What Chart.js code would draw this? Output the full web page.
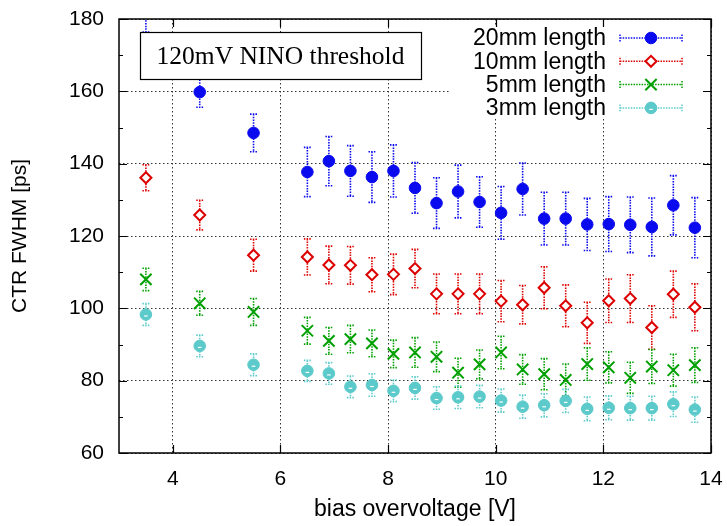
<!DOCTYPE html>
<html><head><meta charset="utf-8">
<script src="https://cdn.jsdelivr.net/npm/chart.js@4/dist/chart.umd.min.js"></script>
<style>html,body{margin:0;padding:0;background:#fff;} canvas{display:block;}</style>
</head><body>
<canvas id="c" width="727" height="526"></canvas>
<script>
// ---- data ----
const biasVoltage = [3.5,4.5,5.5,6.5,6.9,7.3,7.7,8.1,8.5,8.9,9.3,9.7,10.1,10.5,10.9,11.3,11.7,12.1,12.5,12.9,13.3,13.7];
const ctr20mm = [184.0,159.8,148.5,137.7,140.7,138.0,136.3,138.0,133.3,129.1,132.3,129.4,126.4,133.0,124.8,124.8,123.2,123.3,123.1,122.5,128.5,122.3];
const err20mm = [7.6,4.2,5.2,6.8,6.8,7.0,7.0,7.2,7.0,7.0,7.3,7.0,7.3,7.2,7.3,7.3,7.2,7.6,7.7,8.0,8.2,8.3];
const ctr10mm = [136.1,125.8,114.7,114.2,112.0,111.9,109.3,109.4,111.0,104.0,104.0,104.0,102.0,101.0,105.7,100.7,96.0,102.1,102.7,94.7,103.9,100.3];
const err10mm = [3.6,4.1,4.4,5.0,5.2,5.2,4.7,5.6,5.3,5.5,5.5,5.5,5.7,5.3,5.8,5.8,5.7,6.0,6.6,6.0,6.4,6.5];
const ctr5mm = [108.0,101.4,99.0,93.8,91.0,91.5,90.3,87.4,87.8,86.6,82.2,84.5,87.8,83.1,81.8,80.2,84.6,83.7,80.8,83.9,82.9,84.3];
const err5mm = [3.1,3.3,3.7,3.7,3.7,3.8,3.7,3.8,4.1,4.1,4.0,4.0,4.5,4.1,4.3,4.4,4.5,4.3,4.3,4.7,4.4,4.8];
const ctr3mm = [98.3,89.6,84.4,82.7,82.0,78.3,78.8,77.2,78.0,75.2,75.4,75.6,74.5,72.8,73.2,74.4,72.2,72.5,72.4,72.4,73.5,72.0];
const err3mm = [3.0,3.0,3.0,2.9,3.0,3.0,3.1,3.0,3.1,3.1,3.1,3.1,3.2,3.2,3.2,3.2,3.3,3.3,3.3,3.3,3.4,3.5];
const seriesLabels = ['20mm length','10mm length','5mm length','3mm length'];
const xTickValues = [4,6,8,10,12,14];
const yTickValues = [60,80,100,120,140,160,180];
const yMinorTickValues = [70,90,110,130,150,170];
const annotationText = '120mV NINO threshold';
const xTitle = 'bias overvoltage [V]';
const yTitle = 'CTR FWHM [ps]';

// ---- styles ----
const colors = ['#0a0aee','#dd0000','#00a000','#5ccaca'];
const styles = [
  {pointStyle:'circle', radius:5.8, borderWidth:1, fill:true},
  {pointStyle:'rectRot', radius:5.5, borderWidth:2, fill:false},
  {pointStyle:'crossRot', radius:8, borderWidth:2, fill:false},
  {pointStyle:'circle', radius:5.8, borderWidth:1, fill:true}
];
const values = [ctr20mm, ctr10mm, ctr5mm, ctr3mm];
const errors = [err20mm, err10mm, err5mm, err3mm];

const datasets = values.map((vals, k) => ({
  label: seriesLabels[k],
  data: biasVoltage.map((x, i) => ({x: x, y: vals[i]})),
  errors: errors[k],
  showLine: false,
  pointStyle: styles[k].pointStyle,
  pointRadius: styles[k].radius,
  pointHoverRadius: styles[k].radius,
  pointBorderWidth: styles[k].borderWidth,
  borderColor: colors[k],
  backgroundColor: styles[k].fill ? colors[k] : '#ffffff'
}));

const DOT = [1.5, 1.2];

const errorBarPlugin = {
  id: 'errorBars',
  beforeDatasetsDraw(chart) {
    const {ctx, chartArea: a, scales: {x: xs, y: ys}} = chart;
    ctx.save();
    ctx.beginPath();
    ctx.rect(a.left, a.top, a.right - a.left, a.bottom - a.top);
    ctx.clip();
    chart.data.datasets.forEach((ds, k) => {
      ctx.strokeStyle = colors[k];
      ctx.lineWidth = 1.6;
      ctx.setLineDash(DOT);
      ds.data.forEach((p, i) => {
        const px = xs.getPixelForValue(p.x);
        const yt = ys.getPixelForValue(p.y + ds.errors[i]);
        const yb = ys.getPixelForValue(p.y - ds.errors[i]);
        ctx.beginPath();
        ctx.moveTo(px, yt); ctx.lineTo(px, yb);
        ctx.moveTo(px - 3.5, yt); ctx.lineTo(px + 3.5, yt);
        ctx.moveTo(px - 3.5, yb); ctx.lineTo(px + 3.5, yb);
        ctx.stroke();
      });
    });
    ctx.restore();
  },
  afterDatasetsDraw(chart) {
    const {ctx, chartArea: a} = chart;
    ctx.save();
    ctx.beginPath();
    ctx.rect(a.left, a.top, a.right - a.left, a.bottom - a.top);
    ctx.clip();
    const meta = chart.getDatasetMeta(3);
    ctx.strokeStyle = '#ffffff';
    ctx.lineWidth = 1.2;
    meta.data.forEach(el => {
      ctx.beginPath();
      ctx.moveTo(el.x - 1.8, el.y + 1.5);
      ctx.lineTo(el.x + 1.8, el.y + 1.5);
      ctx.stroke();
    });
    ctx.restore();

    // annotation box
    ctx.save();
    ctx.fillStyle = '#ffffff';
    ctx.fillRect(140, 32, 281, 47);
    ctx.strokeStyle = '#000';
    ctx.lineWidth = 1.2;
    ctx.strokeRect(140.5, 32.5, 281, 47);
    ctx.fillStyle = '#000';
    ctx.font = "25.5px 'Liberation Serif', 'Times New Roman', serif";
    ctx.textAlign = 'center';
    ctx.textBaseline = 'middle';
    ctx.fillText(annotationText, 280.5, 57);
    ctx.restore();

    // legend (key) with opaque background
    ctx.save();
    ctx.fillStyle = '#ffffff';
    ctx.fillRect(450, 26, 252, 92);
    chart.data.datasets.forEach((ds, k) => {
      const y = 38 + k * 23.3;
      ctx.fillStyle = '#000';
      ctx.font = "23px 'Liberation Sans', Arial, sans-serif";
      ctx.textAlign = 'right';
      ctx.textBaseline = 'middle';
      ctx.fillText(ds.label, 606, y + 1);
      ctx.strokeStyle = colors[k];
      ctx.lineWidth = 1.5;
      ctx.setLineDash(DOT);
      ctx.beginPath();
      ctx.moveTo(620, y); ctx.lineTo(682, y);
      ctx.moveTo(620, y - 3.5); ctx.lineTo(620, y + 3.5);
      ctx.moveTo(682, y - 3.5); ctx.lineTo(682, y + 3.5);
      ctx.stroke();
      ctx.setLineDash([]);
      ctx.fillStyle = styles[k].fill ? colors[k] : '#ffffff';
      ctx.lineWidth = styles[k].borderWidth;
      Chart.helpers.drawPoint(ctx, {pointStyle: styles[k].pointStyle, rotation: 0, radius: styles[k].radius, borderWidth: styles[k].borderWidth}, 651, y);
      if (k === 3) {
        ctx.strokeStyle = '#fff'; ctx.lineWidth = 1.2;
        ctx.beginPath(); ctx.moveTo(649.2, y + 1.5); ctx.lineTo(652.8, y + 1.5); ctx.stroke();
      }
    });
    ctx.restore();
  },
  afterDraw(chart) {
    const {ctx, chartArea: a, scales: {x: xs, y: ys}} = chart;
    ctx.save();
    ctx.strokeStyle = '#000';
    ctx.lineWidth = 1.2;
    ctx.beginPath();
    yTickValues.forEach(v => {
      const py = Math.round(ys.getPixelForValue(v)) + 0.5;
      ctx.moveTo(a.left, py); ctx.lineTo(a.left + 8, py);
      ctx.moveTo(a.right, py); ctx.lineTo(a.right - 8, py);
    });
    yMinorTickValues.forEach(v => {
      const py = Math.round(ys.getPixelForValue(v)) + 0.5;
      ctx.moveTo(a.left, py); ctx.lineTo(a.left + 4, py);
      ctx.moveTo(a.right, py); ctx.lineTo(a.right - 4, py);
    });
    xTickValues.forEach(v => {
      const px = Math.round(xs.getPixelForValue(v)) + 0.5;
      ctx.moveTo(px, a.bottom); ctx.lineTo(px, a.bottom - 8);
      ctx.moveTo(px, a.top); ctx.lineTo(px, a.top + 8);
    });
    ctx.stroke();
    ctx.lineWidth = 1.5;
    ctx.strokeRect(a.left, a.top, a.right - a.left, a.bottom - a.top);
    ctx.restore();
  }
};

Chart.defaults.font.family = "'Liberation Sans', Arial, Helvetica, sans-serif";
Chart.defaults.color = '#000';

new Chart(document.getElementById('c'), {
  type: 'scatter',
  data: {datasets: datasets},
  options: {
    responsive: false,
    animation: false,
    devicePixelRatio: 1,
    layout: {padding: {left: 0, top: 19, right: 16, bottom: 0}},
    plugins: {legend: {display: false}, tooltip: {enabled: false}},
    scales: {
      x: {
        type: 'linear', min: 3, max: 14,
        afterBuildTicks: s => { s.ticks = xTickValues.map(v => ({value: v})); },
        afterFit: s => { s.height = 73; s.paddingLeft = 0; s.paddingRight = 0; },
        ticks: {font: {size: 21}, color: '#000', padding: 14, maxRotation: 0, autoSkip: false},
        grid: {color: '#333', lineWidth: 1, drawTicks: false},
        border: {display: false, dash: [1.5, 2.5]},
        title: {display: true, text: xTitle, font: {size: 23}, color: '#000', padding: {top: 0, bottom: 3}}
      },
      y: {
        type: 'linear', min: 60, max: 180,
        afterBuildTicks: s => { s.ticks = yTickValues.map(v => ({value: v})); },
        afterFit: s => { s.width = 119; s.paddingTop = 0; s.paddingBottom = 0; },
        ticks: {font: {size: 21}, color: '#000', padding: 15},
        grid: {color: '#333', lineWidth: 1, drawTicks: false},
        border: {display: false, dash: [1.5, 2.5]},
        title: {display: true, text: yTitle, font: {size: 21}, color: '#000', padding: {top: 8, bottom: 0}}
      }
    }
  },
  plugins: [errorBarPlugin]
});
</script>
</body></html>
